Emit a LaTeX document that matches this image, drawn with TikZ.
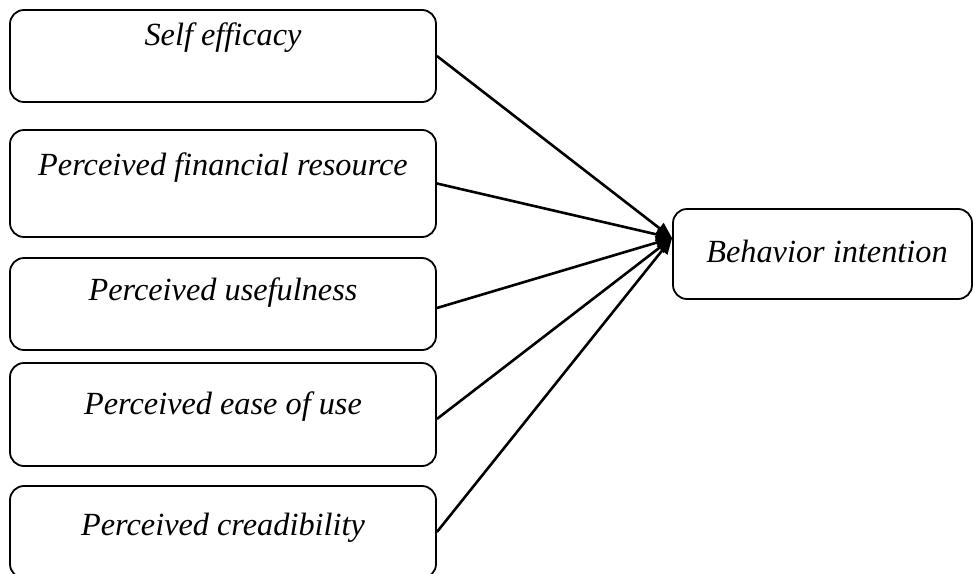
\documentclass[tikz,border=0pt]{standalone}
\usepackage{fontspec}
\setmainfont{Liberation Serif}
\usetikzlibrary{arrows.meta}
\begin{document}
\begin{tikzpicture}[x=1pt,y=-1pt,
  factor/.style={draw, line width=1.8pt, rounded corners=14pt, minimum width=426pt, inner sep=0pt},
  caption/.style={anchor=base, font=\fontsize{32.3}{38}\selectfont\itshape, inner sep=0pt},
  link/.style={line width=2.6pt, -{Triangle[length=16pt,width=13pt]}}]
\useasboundingbox (0,0) rectangle (973,573);

% predictor boxes
\node[factor, minimum height=92pt]  (se)  at (223,56)    {};
\node[factor, minimum height=107pt] (pfr) at (223,183.5) {};
\node[factor, minimum height=92pt]  (pu)  at (223,304)   {};
\node[factor, minimum height=103pt] (peu) at (223,414.5) {};
\node[factor, minimum height=92pt]  (pc)  at (223,532)   {};

% outcome box
\node[factor, minimum width=299pt, minimum height=90pt] (bi) at (822.5,254) {};

% labels
\node[caption] (tse)  at (223,45)  {Self efficacy};
\node[caption] (tpfr) at (223,175) {Perceived financial resource};
\node[caption] (tpu)  at (223,300) {Perceived usefulness};
\node[caption] (tpeu) at (223,414) {Perceived ease of use};
\node[caption] (tpc)  at (223,535) {Perceived creadibility};
\node[caption] (tbi)  at (827,262) {Behavior intention};

% arrows converge on one point of the outcome box
\coordinate (tip) at ([yshift=16pt]bi.west);
\draw[link] (se.east) -- (tip);
\draw[link] (pfr.east) -- (tip);
\draw[link] ([yshift=-4pt]pu.east) -- (tip);
\draw[link] ([yshift=-4.5pt]peu.east) -- (tip);
\draw[link] (pc.east) -- (tip);
\end{tikzpicture}
\end{document}
